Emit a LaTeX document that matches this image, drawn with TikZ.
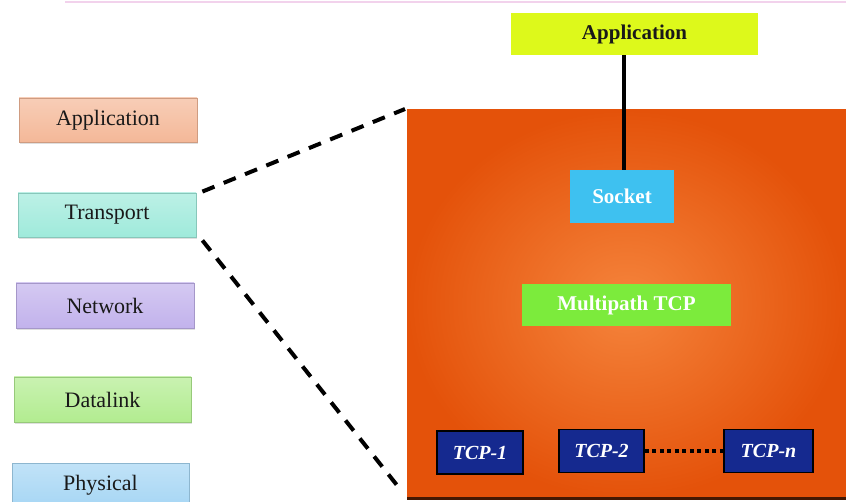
\documentclass[tikz,border=0pt]{standalone}
\usepackage{fontspec}
\setmainfont{Liberation Serif}
\usetikzlibrary{shadows}
\definecolor{cApp}{HTML}{F4B898}
\definecolor{cTra}{HTML}{9FEADB}
\definecolor{cNet}{HTML}{C2B2EC}
\definecolor{cDat}{HTML}{B2EC90}
\definecolor{cPhy}{HTML}{A6D6F4}
\definecolor{orOut}{HTML}{E4520A}
\definecolor{orIn}{HTML}{F5843C}
\definecolor{yel}{HTML}{DDF91B}
\definecolor{sockc}{HTML}{3EC1F0}
\definecolor{mptc}{HTML}{7CEB3C}
\definecolor{tcpc}{HTML}{15298F}
\definecolor{pinkline}{HTML}{F2D2EC}
\begin{document}
\begin{tikzpicture}[x=1pt,y=-1pt,
  layerbox/.style={rectangle, inner sep=0, minimum width=178, minimum height=44,
    draw=#1!85!black, line width=0.8, top color=#1!70!white, middle color=#1!30!white, bottom color=#1,
    text=black!90, font=\fontsize{22}{24}\selectfont,
    drop shadow={opacity=0.25, shadow xshift=0.5pt, shadow yshift=-2pt}},
  flatbox/.style={rectangle, inner sep=0, fill=#1, font=\bfseries\fontsize{21}{24}\selectfont},
  tcpbox/.style={rectangle, inner sep=0, fill=tcpc, draw=black, line width=1.5,
    minimum height=43, text=white, font=\bfseries\itshape\fontsize{20}{24}\selectfont},
  dashconn/.style={line width=4, dash pattern=on 13 off 10},
]
\useasboundingbox (0,0) rectangle (846,502);
\fill[white] (0,0) rectangle (846,502);
\draw[pinkline, line width=2] (65,2) -- (846,2);

% left stack
\node[layerbox=cApp] (la) at (108,120) {Application};
\node[layerbox=cTra] (lt) at (107,215) {Transport};
\node[layerbox=cNet, minimum height=45] (ln) at (105,305.5) {Network};
\node[layerbox=cDat, minimum width=177, minimum height=45] (ld) at (102.5,399.5) {Datalink};
\node[layerbox=cPhy, minimum width=177, minimum height=45] (lp) at (100.5,485.5) {Physical};

% transport detail
\shade[inner color=orIn, outer color=orOut] (407,110) rectangle (846,498);
\node[rectangle, inner sep=0, minimum width=439, minimum height=388, anchor=north west] (core) at (407,110) {};
\draw[black!70!orOut, line width=2.5] (core.south west) -- (core.south east);

\node[flatbox=yel, minimum width=247, minimum height=42, text=black!90] (app) at (634.5,34) {Application};
\node[flatbox=sockc, minimum width=104, minimum height=53, text=white] (sock) at (622,196.5) {Socket};
\node[flatbox=mptc, minimum width=209, minimum height=42, text=white] (mp) at (626.5,305) {Multipath TCP};

\node[tcpbox, minimum width=86] (t1) at (480,452.5) {TCP-1};
\node[tcpbox, minimum width=85] (t2) at (601.5,451) {TCP-2};
\node[tcpbox, minimum width=89] (tn) at (768.5,451) {TCP-n};

\draw[line width=4] ([xshift=2pt]sock.north) -- ([xshift=2pt]sock.north |- app.south);
\draw[line width=3.5, dash pattern=on 4 off 3.5] (t2.east) -- (tn.west);

% zoom connectors
\coordinate (upend) at (405,109);
\coordinate (lowend) at (400,489);
\draw[dashconn] ([xshift=6pt,yshift=1pt]lt.north east) -- (upend);
\draw[dashconn] ([xshift=6pt,yshift=-3pt]lt.south east) -- (lowend);
\end{tikzpicture}
\end{document}
